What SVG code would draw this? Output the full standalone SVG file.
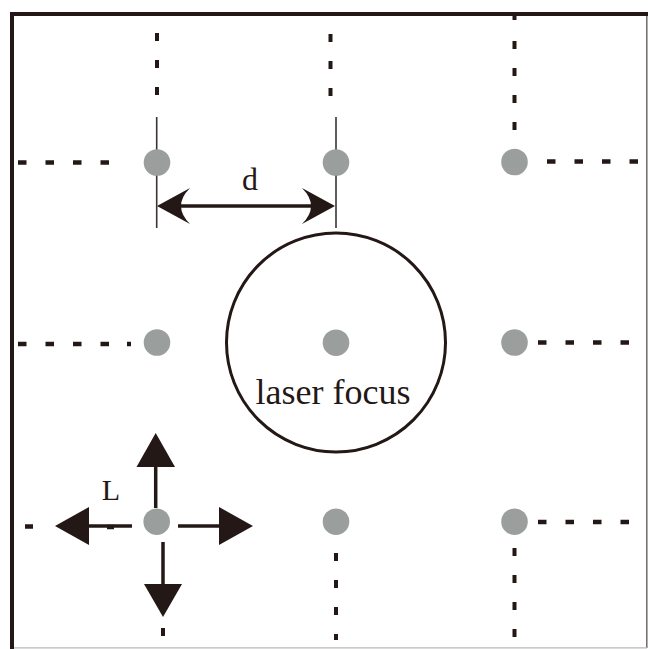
<svg xmlns="http://www.w3.org/2000/svg" width="648" height="649" viewBox="0 0 648 649">
  <style>
    .dot { fill: #9a9f9e; }
    .dash { stroke: #231815; stroke-width: 4.5; fill: none; }
    .vdash { stroke: #231815; stroke-width: 4; fill: none; stroke-dasharray: 8 19; }
    .hdash { stroke: #231815; stroke-width: 4.5; fill: none; stroke-dasharray: 8.5 19; }
    .shaft { stroke: #231815; stroke-width: 3.5; fill: none; }
    .head { fill: #231815; }
    .dim { stroke: #3a3330; stroke-width: 1.6; fill: none; }
    .lbl { font-family: "Liberation Serif", "Times New Roman", serif; fill: #231815; }
  </style>
  <rect x="0" y="0" width="648" height="649" fill="#ffffff"/>
  <g id="frame">
    <line x1="646.8" y1="14" x2="646.8" y2="648" stroke="#6e6a69" stroke-width="1.5"/>
    <line x1="12" y1="647.8" x2="647" y2="647.8" stroke="#b8b8b8" stroke-width="1.2"/>
    <rect x="10" y="12" width="638" height="4" fill="#231815"/>
    <rect x="10" y="12" width="4" height="637" fill="#231815"/>
  </g>
  <g id="connectors">
    <line class="hdash" x1="18" y1="162.5" x2="110" y2="162.5"/>
    <line class="hdash" x1="18" y1="344" x2="110" y2="344"/>
    <line class="dash" x1="127" y1="344" x2="131" y2="344"/>
    <line class="hdash" x1="547" y1="161.5" x2="640" y2="161.5"/>
    <line class="hdash" x1="538" y1="342.5" x2="630" y2="342.5"/>
    <line class="hdash" x1="538" y1="522" x2="630" y2="522"/>
    <line class="dash" x1="25" y1="526.5" x2="33" y2="526.5"/>
    <line class="dash" x1="107" y1="527" x2="114" y2="527"/>
    <line class="vdash" x1="157" y1="33" x2="157" y2="96"/>
    <line class="vdash" x1="330.5" y1="34" x2="330.5" y2="97"/>
    <line class="vdash" x1="514.5" y1="14" x2="514.5" y2="131" style="stroke-dasharray: 6 21 8 19 8 19 8 19 8 19"/>
    <line class="vdash" x1="514.5" y1="548" x2="514.5" y2="638"/>
    <line class="vdash" x1="336" y1="553" x2="336" y2="640"/>
    <line class="vdash" x1="163" y1="628" x2="163" y2="636"/>
    <line class="dim" x1="156.7" y1="117" x2="156.7" y2="228"/>
    <line class="dim" x1="336" y1="117" x2="336" y2="228"/>
    <line class="shaft" x1="175" y1="206" x2="318" y2="206"/>
    <path class="head" d="M157,206 L190,188 Q181,197 181,206 Q181,215 190,224 Z"/>
    <path class="head" d="M335,206 L302,188 Q311,197 311,206 Q311,215 302,224 Z"/>
    <line class="shaft" x1="155.7" y1="508" x2="155.7" y2="464"/>
    <path class="head" d="M155.7,433 L175,467 L136.5,467 Z"/>
    <line class="shaft" x1="132" y1="526" x2="86" y2="526"/>
    <path class="head" d="M55,526 L89,507 L89,545 Z"/>
    <line class="shaft" x1="178" y1="526" x2="222" y2="526"/>
    <path class="head" d="M253,526 L219,507 L219,545 Z"/>
    <line class="shaft" x1="163" y1="542" x2="163" y2="587"/>
    <path class="head" d="M163,617 L144,584 L182,584 Z"/>
  </g>
  <g id="laser-focus">
    <circle cx="336" cy="342.5" r="109.5" fill="none" stroke="#231815" stroke-width="3"/>
    <text class="lbl" x="333" y="404" font-size="36" text-anchor="middle">laser focus</text>
  </g>
  <g id="dots">
    <circle class="dot" cx="157" cy="162.5" r="13.3"/>
    <circle class="dot" cx="336" cy="162.5" r="13.3"/>
    <circle class="dot" cx="514.5" cy="162" r="13.3"/>
    <circle class="dot" cx="157" cy="342.5" r="13.3"/>
    <circle class="dot" cx="336" cy="342.7" r="13.3"/>
    <circle class="dot" cx="514.5" cy="342.5" r="13.3"/>
    <circle class="dot" cx="156.7" cy="521.7" r="13.3"/>
    <circle class="dot" cx="336" cy="521.7" r="13.3"/>
    <circle class="dot" cx="514.5" cy="521.7" r="13.3"/>
  </g>
  <g id="label-d">
    <text class="lbl" x="250" y="190" font-size="32" text-anchor="middle">d</text>
  </g>
  <g id="label-L">
    <text class="lbl" x="111" y="500" font-size="30" text-anchor="middle">L</text>
  </g>
</svg>
